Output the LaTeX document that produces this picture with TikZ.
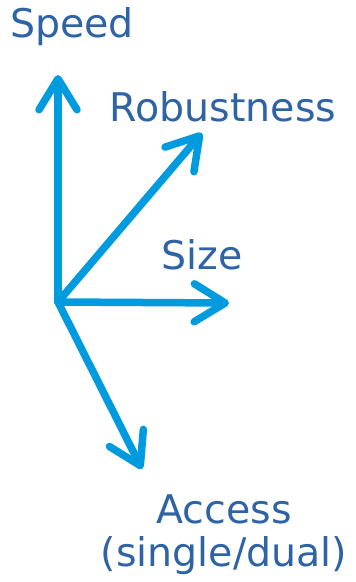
\documentclass[tikz,border=0pt]{standalone}
\usepackage{fontspec}
\setmainfont{DejaVu Sans}
\usetikzlibrary{arrows.meta}
\definecolor{axisblue}{RGB}{0,155,222}
\definecolor{labelblue}{RGB}{46,100,165}

\begin{document}
\begin{tikzpicture}[
  x=1pt, y=-1pt,
  arr/.style={draw=axisblue, line width=7.5pt, line cap=round,
              -{Straight Barb[round, length=31pt, width=38pt]}},
  lbl/.style={text=labelblue, font=\fontsize{39.5}{44}\selectfont,
              inner sep=0pt, align=center}
]
\useasboundingbox (0,0) rectangle (356,582);

\coordinate (o)     at (58,302);
\coordinate (speedtip)  at (58,75);
\coordinate (robusttip) at (202,133);
\coordinate (sizetip)   at (229,303);
\coordinate (accesstip) at (142,469);

\draw[arr] (o) -- (speedtip);
\draw[arr] (o) -- (robusttip);
\draw[arr] (o) -- (sizetip);
\draw[arr] (o) -- (accesstip);

\node[lbl, anchor=base] (speed)  at (72,37)  {Speed};
\node[lbl, anchor=base] (robust) at (223,121) {Robustness};
\node[lbl, anchor=base] (size)   at (202,269) {Size};
\node[lbl, anchor=base] (access) at (224,523) {Access};
\node[lbl, anchor=base] (dual)   at (224,566) {(single/dual)};
\end{tikzpicture}
\end{document}
